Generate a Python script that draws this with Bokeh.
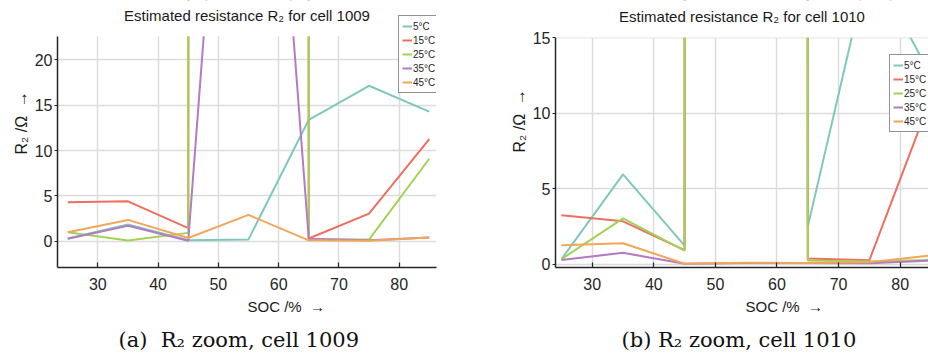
from bokeh.plotting import figure
from bokeh.layouts import row
from bokeh.models import (Legend, LegendItem, Label, FixedTicker, Range1d, Title,
                          BoxAnnotation)
from bokeh.embed import file_html
from bokeh.resources import INLINE

# ---------------- data ----------------
soc = [25, 35, 45, 55, 65, 75, 85]
temps = ["5°C", "15°C", "25°C", "35°C", "45°C"]
colors = ["#7fc8bb", "#ee6e5f", "#a2d255", "#b37bc2", "#f2a65a"]

# cell 1009 (values in Ohm); very large values leave the zoomed view
r2_1009_5C = [0.3, 1.85, 0.1, 0.2, 13.4, 17.15, 14.3]
r2_1009_15C = [4.3, 4.4, 1.45, 10000.0, 0.3, 3.05, 11.25]
r2_1009_25C = [1.0, 0.08, 0.92, 12000.0, 0.2, 0.18, 9.1]
r2_1009_35C = [0.28, 1.7, 0.06, 88.0, 0.27, 0.1, 0.4]
r2_1009_45C = [1.0, 2.35, 0.35, 2.9, 0.1, 0.06, 0.4]

# cell 1010
r2_1010_5C = [0.35, 5.95, 1.25, 10000.0, 2.5, 20.0, 12.5]
r2_1010_15C = [3.25, 2.85, 0.95, 10000.0, 0.4, 0.28, 11.0]
r2_1010_25C = [0.35, 3.05, 0.92, 12000.0, 0.27, 0.2, 0.3]
r2_1010_35C = [0.3, 0.77, 0.05, 0.1, 0.1, 0.08, 0.25]
r2_1010_45C = [1.27, 1.4, 0.05, 0.12, 0.1, 0.15, 0.6]

x_ticks = [30, 40, 50, 60, 70, 80]
y_ticks_1009 = [0, 5, 10, 15, 20]
y_ticks_1010 = [0, 5, 10, 15]

SANS = "Liberation Sans"
SERIF = "DejaVu Serif"
INK = "#262626"
H = 360
NB = "\u00a0"


def panel(width, series, xr, yr, yticks, bl, br, top_px, bottom_px, title,
          ylab_off, xlab_off, cap, cap_off, legend_loc):
    # frame spans from the very top of the figure down to the x axis; the
    # visible data window ends at yr[1] and the strip above it is blanked
    ymin, ymax = yr
    upp = (ymax - ymin) / (bottom_px - top_px)
    ytop = ymax + top_px * upp
    p = figure(width=width, height=H, output_backend="svg", toolbar_location=None,
               x_range=Range1d(*xr), y_range=Range1d(ymin, ytop),
               min_border_left=bl, min_border_right=br, min_border_top=0,
               min_border_bottom=H - bottom_px)
    p.outline_line_color = None
    p.background_fill_color = "white"
    p.border_fill_color = "white"

    for ax in (p.xaxis, p.yaxis):
        ax.axis_line_color = INK
        ax.axis_line_width = 1.5
        ax.major_tick_line_color = INK
        ax.major_tick_line_width = 1.2
        ax.minor_tick_line_color = None
        ax.major_label_text_font = SANS
        ax.major_label_text_font_size = "16px"
        ax.major_label_text_color = INK
    p.xaxis.ticker = FixedTicker(ticks=x_ticks)
    p.yaxis.ticker = FixedTicker(ticks=yticks)
    p.yaxis.bounds = (ymin, ymax)
    p.xaxis.major_tick_in = 5
    p.xaxis.major_tick_out = 0
    p.xaxis.major_label_standoff = 10
    p.yaxis.major_tick_in = 0
    p.yaxis.major_tick_out = 3
    p.yaxis.major_label_standoff = 2

    p.xgrid.ticker = FixedTicker(ticks=x_ticks)
    p.ygrid.ticker = FixedTicker(ticks=yticks)
    for g in (p.xgrid, p.ygrid):
        g.grid_line_color = "#dcdcdc"
        g.grid_line_width = 1.5

    items = []
    for name, col, vals in zip(temps, colors, series):
        r = p.line(soc, vals, line_color=col, line_width=2)
        items.append(LegendItem(label=name, renderers=[r]))

    # blank strip above the visible window
    p.add_layout(BoxAnnotation(bottom=ymax, fill_color="white", fill_alpha=1.0,
                               line_color=None))

    leg = Legend(items=items, location=legend_loc, orientation="vertical")
    leg.label_text_font = SANS
    leg.label_text_font_size = "10px"
    leg.label_text_color = INK
    leg.glyph_width = 10
    leg.glyph_height = 14
    leg.label_height = 14
    leg.label_standoff = 1
    leg.padding = 3
    leg.spacing = 0
    leg.margin = 0
    leg.border_line_color = INK
    leg.border_line_width = 1.5
    leg.background_fill_color = "white"
    leg.background_fill_alpha = 1.0
    p.add_layout(leg, "center")

    fw = width - bl - br
    p.add_layout(Label(x=fw / 2.0, y=bottom_px - 16, x_units="screen", y_units="screen",
                       text=title, text_font=SANS, text_font_size="15px",
                       text_color="#1a1a1a", text_align="center", text_baseline="middle"))

    p.add_layout(Title(text="R₂" + NB + "/Ω" + NB * 2 + "→", align="left", offset=ylab_off,
                       text_font=SANS, text_font_size="16px", text_font_style="normal",
                       text_color="#1a1a1a", standoff=4), "left")
    p.add_layout(Title(text="SOC" + NB + "/%" + NB * 2 + "→", align="left", offset=xlab_off,
                       text_font=SANS, text_font_size="15px", text_font_style="normal",
                       text_color="#1a1a1a", standoff=7), "below")
    p.add_layout(Title(text=cap, align="left", offset=cap_off,
                       text_font=SERIF, text_font_size="21px", text_font_style="normal",
                       text_color="#111111", standoff=14), "below")
    return p


p1 = panel(464,
           [r2_1009_5C, r2_1009_15C, r2_1009_25C, r2_1009_35C, r2_1009_45C],
           (23.3, 86.2), (-2.9, 22.6), y_ticks_1009, 57, 28, 36, 268,
           "Estimated resistance R₂ for cell 1009", 113, 190,
           "(a)" + NB * 2 + "R₂ zoom, cell 1009", 61, (341, 174))

p2 = panel(464,
           [r2_1010_5C, r2_1010_15C, r2_1010_25C, r2_1010_35C, r2_1010_45C],
           (24.04, 84.6), (-0.2, 15.0), y_ticks_1010, 91, 0, 37, 267,
           "Estimated resistance R₂ for cell 1010", 115, 190,
           "(b) R₂ zoom, cell 1010", 66, (334, 135))

layout = row(p1, p2, spacing=0)
open("out.html", "w").write(file_html(layout, INLINE))
